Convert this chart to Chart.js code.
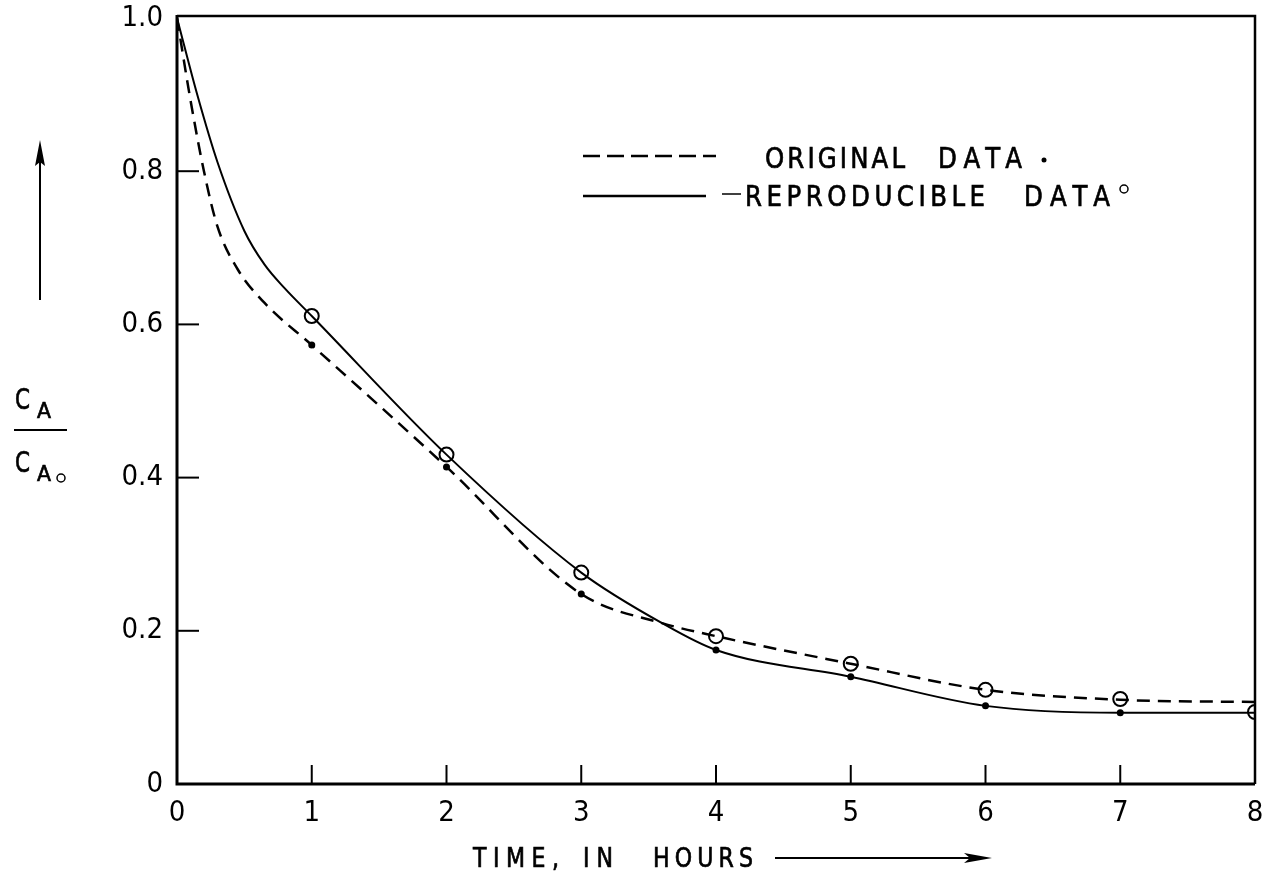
<!DOCTYPE html>
<html>
<head>
<meta charset="utf-8">
<script src="https://cdn.jsdelivr.net/npm/chart.js@4.4.0/dist/chart.umd.min.js"></script>
<style>
  html, body { margin: 0; padding: 0; background: #fff; }
  #wrap { width: 1264px; height: 878px; position: relative; }
</style>
</head>
<body>
<div id="wrap"><canvas id="chart"></canvas></div>
<script>
const FONT = "'DejaVu Sans Condensed', 'DejaVu Sans', sans-serif"

// axis ticks
const xTicks = [0, 1, 2, 3, 4, 5, 6, 7, 8]
const yTicks = [0, 0.2, 0.4, 0.6, 0.8, 1.0]
const yTickLabels = ["0", "0.2", "0.4", "0.6", "0.8", "1.0"]

// traced curves (time in hours, CA/CA0)
const solidTimes = [0, 0.15, 0.3, 0.5, 0.65, 0.8, 1, 2, 3, 3.6, 4, 5, 6, 7, 8]
const solidValues = [1.0, 0.9, 0.812, 0.722, 0.678, 0.647, 0.611, 0.43, 0.276, 0.21, 0.175, 0.14, 0.102, 0.093, 0.093]
const dashedTimes = [0, 0.1, 0.2, 0.3, 0.45, 0.65, 1, 2, 3, 3.6, 4, 5, 6, 7, 8]
const dashedValues = [1.0, 0.893, 0.8, 0.728, 0.672, 0.628, 0.573, 0.414, 0.248, 0.21, 0.193, 0.157, 0.123, 0.11, 0.107]

// measured points
const originalTimes = [1, 2, 3, 4, 5, 6, 7]
const originalValues = [0.573, 0.414, 0.248, 0.175, 0.14, 0.102, 0.093]
const reproTimes = [1, 2, 3, 4, 5, 6, 7, 8]
const reproValues = [0.611, 0.43, 0.276, 0.193, 0.157, 0.123, 0.111, 0.094]

const pts = (xs, ys) => xs.map((x, i) => ({ x: x, y: ys[i] }))

// narrow, spaced stencil lettering, spread to fill a given width
function word(ctx, text, x, yMid, cap, width, squeeze) {
  ctx.save()
  ctx.font = (cap / 0.73).toFixed(1) + "px 'DejaVu Sans'"
  ctx.letterSpacing = "0px"
  const natural = ctx.measureText(text).width
  let sq = squeeze
  let spacing = text.length > 1 ? (width - natural * sq) / (text.length - 1) : 0
  if (spacing < 0 || text.length === 1) { sq = width / natural; spacing = 0 }
  ctx.translate(x, yMid + cap / 2)
  ctx.scale(sq, 1)
  ctx.letterSpacing = (spacing / sq).toFixed(2) + "px"
  ctx.textAlign = "left"
  ctx.textBaseline = "alphabetic"
  ctx.lineWidth = 0.7
  ctx.fillText(text, 0, 0)
  ctx.strokeText(text, 0, 0)
  ctx.restore()
}

// frame, inward ticks, legend, axis titles and arrows
const decorations = {
  id: "decorations",
  afterDraw(chart) {
    const ctx = chart.ctx
    const area = chart.chartArea
    const xs = chart.scales.x
    const ys = chart.scales.y
    ctx.save()
    ctx.strokeStyle = "#000"
    ctx.fillStyle = "#000"

    // frame
    ctx.lineWidth = 2.5
    ctx.beginPath()
    ctx.moveTo(area.left, area.top - 2)
    ctx.lineTo(area.right, area.top - 2)
    ctx.lineTo(area.right, area.bottom)
    ctx.stroke()
    ctx.lineWidth = 3
    ctx.beginPath()
    ctx.moveTo(area.left, area.top - 3)
    ctx.lineTo(area.left, area.bottom)
    ctx.lineTo(area.right, area.bottom)
    ctx.stroke()

    // inward ticks
    ctx.lineWidth = 2
    xTicks.slice(1, -1).forEach((t) => {
      const px = xs.getPixelForValue(t)
      ctx.beginPath()
      ctx.moveTo(px, area.bottom)
      ctx.lineTo(px, area.bottom - 19)
      ctx.stroke()
    })
    yTicks.slice(1, -1).forEach((v) => {
      const py = ys.getPixelForValue(v)
      ctx.beginPath()
      ctx.moveTo(area.left, py)
      ctx.lineTo(area.left + 22, py)
      ctx.stroke()
    })

    // legend
    ctx.lineWidth = 2.5
    ctx.setLineDash([17, 7])
    ctx.beginPath()
    ctx.moveTo(583, 156)
    ctx.lineTo(716, 156)
    ctx.stroke()
    ctx.setLineDash([])
    ctx.beginPath()
    ctx.moveTo(583, 196)
    ctx.lineTo(706, 196)
    ctx.stroke()
    ctx.lineWidth = 1.5
    ctx.beginPath()
    ctx.moveTo(722, 194)
    ctx.lineTo(741, 194)
    ctx.stroke()
    word(ctx, "ORIGINAL", 765, 157, 21, 140, 0.85)
    word(ctx, "DATA", 938, 157, 21, 84, 0.85)
    ctx.beginPath()
    ctx.arc(1044, 160, 2.5, 0, Math.PI * 2)
    ctx.fill()
    word(ctx, "REPRODUCIBLE", 745, 195, 21, 240, 0.85)
    word(ctx, "DATA", 1024, 195, 21, 86, 0.85)
    ctx.lineWidth = 1.5
    ctx.beginPath()
    ctx.arc(1124, 189, 4, 0, Math.PI * 2)
    ctx.stroke()

    // x title and arrow
    word(ctx, "TIME,", 473, 857, 19, 86, 0.85)
    word(ctx, "IN", 583, 857, 19, 30, 0.85)
    word(ctx, "HOURS", 653, 857, 19, 100, 0.85)
    ctx.lineWidth = 2
    ctx.beginPath()
    ctx.moveTo(775, 858)
    ctx.lineTo(975, 858)
    ctx.stroke()
    ctx.beginPath()
    ctx.moveTo(992, 858)
    ctx.lineTo(964, 853)
    ctx.lineTo(970, 858)
    ctx.lineTo(964, 863)
    ctx.closePath()
    ctx.fill()

    // y title: CA / CA0
    word(ctx, "C", 15, 398, 21, 15, 0.85)
    word(ctx, "A", 37, 410, 16, 14, 0.9)
    ctx.lineWidth = 2
    ctx.beginPath()
    ctx.moveTo(14, 430)
    ctx.lineTo(67, 430)
    ctx.stroke()
    word(ctx, "C", 15, 461, 21, 15, 0.85)
    word(ctx, "A", 37, 473, 16, 14, 0.9)
    ctx.lineWidth = 1.5
    ctx.beginPath()
    ctx.arc(61, 478, 4, 0, Math.PI * 2)
    ctx.stroke()

    // y arrow
    ctx.lineWidth = 2
    ctx.beginPath()
    ctx.moveTo(40, 300)
    ctx.lineTo(40, 160)
    ctx.stroke()
    ctx.beginPath()
    ctx.moveTo(40, 140)
    ctx.lineTo(35, 166)
    ctx.lineTo(40, 162)
    ctx.lineTo(45, 166)
    ctx.closePath()
    ctx.fill()

    ctx.restore()
  },
}

new Chart(document.getElementById("chart"), {
  type: "scatter",
  data: {
    datasets: [
      {
        label: "Reproducible data curve",
        data: pts(solidTimes, solidValues),
        showLine: true,
        borderColor: "#000",
        borderWidth: 2,
        pointRadius: 0,
        cubicInterpolationMode: "monotone",
      },
      {
        label: "Original data curve",
        data: pts(dashedTimes, dashedValues),
        showLine: true,
        borderColor: "#000",
        borderWidth: 2.5,
        borderDash: [13, 8],
        pointRadius: 0,
        cubicInterpolationMode: "monotone",
      },
      {
        label: "Original data",
        data: pts(originalTimes, originalValues),
        pointRadius: 3.5,
        pointBackgroundColor: "#000",
        pointBorderColor: "#000",
        pointBorderWidth: 0,
      },
      {
        label: "Reproducible data",
        data: pts(reproTimes, reproValues),
        pointRadius: 7,
        pointBackgroundColor: "#fff",
        pointBorderColor: "#000",
        pointBorderWidth: 2,
        clip: 0,
      },
    ],
  },
  options: {
    responsive: true,
    maintainAspectRatio: false,
    animation: false,
    events: [],
    layout: { padding: { top: 18, right: 6, left: 0, bottom: 0 } },
    plugins: {
      legend: { display: false },
      tooltip: { enabled: false },
    },
    scales: {
      x: {
        type: "linear",
        min: 0,
        max: 8,
        afterBuildTicks: (s) => { s.ticks = xTicks.map((v) => ({ value: v })) },
        afterFit: (s) => { s.height = 94; s.paddingLeft = 0; s.paddingRight = 0 },
        grid: { display: false, drawTicks: false },
        border: { display: false },
        ticks: {
          color: "#000",
          padding: 12,
          maxRotation: 0,
          font: { family: FONT, size: 29 },
          callback: (v) => String(v),
        },
      },
      y: {
        type: "linear",
        min: 0,
        max: 1.0,
        afterBuildTicks: (s) => { s.ticks = yTicks.map((v) => ({ value: v })) },
        afterFit: (s) => { s.width = 177; s.paddingTop = 0; s.paddingBottom = 0 },
        grid: { display: false, drawTicks: false },
        border: { display: false },
        ticks: {
          color: "#000",
          padding: 14,
          font: { family: FONT, size: 29 },
          callback: (v, i) => yTickLabels[i],
        },
      },
    },
  },
  plugins: [decorations],
})
</script>
</body>
</html>
